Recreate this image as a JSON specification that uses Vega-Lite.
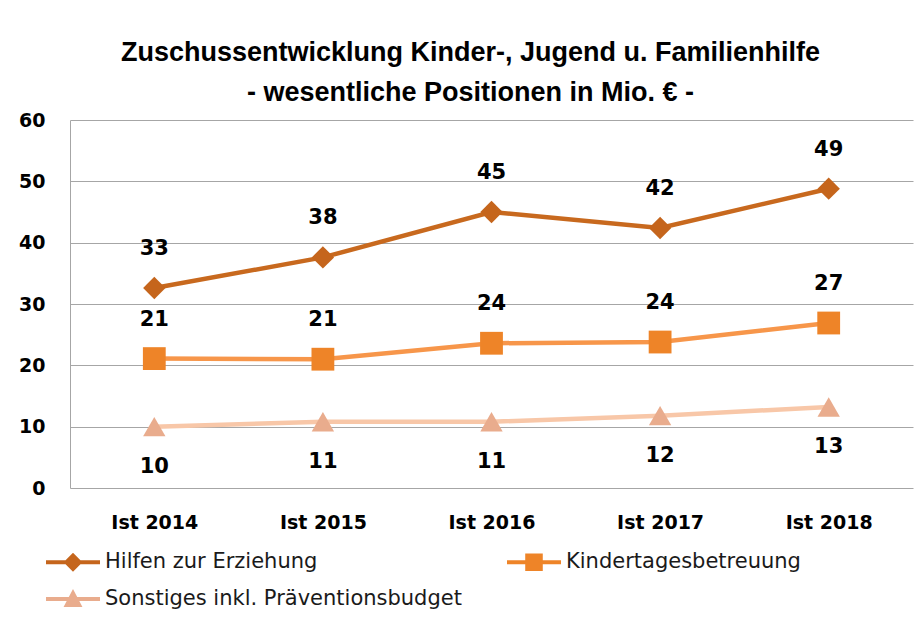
{
  "$schema": "https://vega.github.io/schema/vega-lite/v6.json",
  "width": 843,
  "height": 368,
  "autosize": {"type": "none"},
  "padding": {"left": 70, "top": 120, "right": 11, "bottom": 131},
  "background": "white",
  "title": {
    "text": ["Zuschussentwicklung  Kinder-, Jugend u. Familienhilfe", "- wesentliche Positionen in Mio. € -"],
    "font": "Liberation Sans",
    "fontSize": 27,
    "fontWeight": "bold",
    "lineHeight": 40,
    "color": "#000000",
    "anchor": "middle",
    "dx": -21,
    "offset": 4
  },
  "config": {
    "view": {"stroke": null},
    "axis": {"ticks": false, "title": null}
  },
  "data": {
    "values": [
      {"jahr": "Ist 2014", "serie": "Hilfen zur Erziehung", "wert": 32.6},
      {"jahr": "Ist 2015", "serie": "Hilfen zur Erziehung", "wert": 37.6},
      {"jahr": "Ist 2016", "serie": "Hilfen zur Erziehung", "wert": 45.0},
      {"jahr": "Ist 2017", "serie": "Hilfen zur Erziehung", "wert": 42.4},
      {"jahr": "Ist 2018", "serie": "Hilfen zur Erziehung", "wert": 48.8},
      {"jahr": "Ist 2014", "serie": "Kindertagesbetreuung", "wert": 21.1},
      {"jahr": "Ist 2015", "serie": "Kindertagesbetreuung", "wert": 21.0},
      {"jahr": "Ist 2016", "serie": "Kindertagesbetreuung", "wert": 23.6},
      {"jahr": "Ist 2017", "serie": "Kindertagesbetreuung", "wert": 23.8},
      {"jahr": "Ist 2018", "serie": "Kindertagesbetreuung", "wert": 26.9},
      {"jahr": "Ist 2014", "serie": "Sonstiges inkl. Präventionsbudget", "wert": 10.0},
      {"jahr": "Ist 2015", "serie": "Sonstiges inkl. Präventionsbudget", "wert": 10.8},
      {"jahr": "Ist 2016", "serie": "Sonstiges inkl. Präventionsbudget", "wert": 10.8},
      {"jahr": "Ist 2017", "serie": "Sonstiges inkl. Präventionsbudget", "wert": 11.8},
      {"jahr": "Ist 2018", "serie": "Sonstiges inkl. Präventionsbudget", "wert": 13.2}
    ]
  },
  "encoding": {
    "x": {
      "field": "jahr",
      "type": "nominal",
      "sort": ["Ist 2014", "Ist 2015", "Ist 2016", "Ist 2017", "Ist 2018"],
      "axis": {
        "domain": false,
        "labelAngle": 0,
        "labelFont": "DejaVu Sans",
        "labelFontSize": 19,
        "labelFontWeight": "bold",
        "labelColor": "#000000",
        "labelPadding": 25
      }
    },
    "y": {
      "field": "wert",
      "type": "quantitative",
      "scale": {"domain": [0, 60], "nice": false},
      "axis": {
        "values": [0, 10, 20, 30, 40, 50, 60],
        "domain": true,
        "domainColor": "#A6A6A6",
        "grid": true,
        "gridColor": "#A6A6A6",
        "labelFont": "DejaVu Sans",
        "labelFontSize": 19,
        "labelFontWeight": "bold",
        "labelColor": "#000000",
        "labelPadding": 25
      }
    }
  },
  "layer": [
    {
      "mark": {"type": "line", "strokeWidth": 4.5},
      "encoding": {
        "stroke": {
          "field": "serie",
          "type": "nominal",
          "scale": {"range": ["#C8691E", "#F7964A", "#F8C7A8"]},
          "legend": null
        }
      }
    },
    {
      "transform": [{"filter": "datum.serie === 'Hilfen zur Erziehung'"}],
      "mark": {"type": "point", "shape": "diamond", "filled": true, "opacity": 1, "size": 500, "strokeWidth": 0},
      "encoding": {
        "fill": {
          "field": "serie",
          "type": "nominal",
          "scale": {
            "domain": ["Hilfen zur Erziehung", "Kindertagesbetreuung", "Sonstiges inkl. Präventionsbudget"],
            "range": ["#C5651C", "#EE8428", "#E9AC8D"]
          },
          "legend": {
            "title": null,
            "orient": "none",
            "legendX": -10.5,
            "legendY": 428.5,
            "columns": 2,
            "direction": "horizontal",
            "padding": 0,
            "columnPadding": 44,
            "rowPadding": 13,
            "symbolSize": 729,
            "symbolStrokeWidth": 0,
            "symbolOpacity": 1,
            "labelOffset": 18.5,
            "labelFont": "DejaVu Sans",
            "labelFontSize": 21,
            "labelColor": "#1a1a1a",
            "labelLimit": 600
          }
        }
      }
    },
    {
      "transform": [{"filter": "datum.serie === 'Kindertagesbetreuung'"}],
      "mark": {"type": "point", "shape": "square", "filled": true, "opacity": 1, "size": 520, "strokeWidth": 0},
      "encoding": {
        "fill": {"field": "serie", "type": "nominal"}
      }
    },
    {
      "transform": [{"filter": "datum.serie === 'Sonstiges inkl. Präventionsbudget'"}],
      "mark": {"type": "point", "shape": "triangle-up", "filled": true, "opacity": 1, "size": 500, "strokeWidth": 0},
      "encoding": {
        "fill": {"field": "serie", "type": "nominal"}
      }
    },
    {
      "mark": {"type": "point", "filled": true, "opacity": 0, "size": 10, "strokeWidth": 0},
      "encoding": {
        "fill": {"field": "serie", "type": "nominal"},
        "shape": {
          "field": "serie",
          "type": "nominal",
          "scale": {
            "domain": ["Hilfen zur Erziehung", "Kindertagesbetreuung", "Sonstiges inkl. Präventionsbudget"],
            "range": [
              "M-2,-0.15H2V0.15H-2Z M0,-0.7L0.7,0L0,0.7L-0.7,0Z",
              "M-2,-0.15H2V0.15H-2Z M-0.65,-0.65H0.65V0.65H-0.65Z",
              "M-2,-0.15H2V0.15H-2Z M0,-0.75L0.7,0.6H-0.7Z"
            ]
          }
        }
      }
    },
    {
      "transform": [{"filter": "datum.serie !== 'Sonstiges inkl. Präventionsbudget'"}],
      "mark": {"type": "text", "dy": -39, "font": "DejaVu Sans", "fontSize": 21, "fontWeight": "bold", "color": "#000000", "baseline": "middle"},
      "encoding": {
        "text": {"field": "wert", "type": "quantitative", "format": ".0f"}
      }
    },
    {
      "transform": [{"filter": "datum.serie === 'Sonstiges inkl. Präventionsbudget'"}],
      "mark": {"type": "text", "dy": 40, "font": "DejaVu Sans", "fontSize": 21, "fontWeight": "bold", "color": "#000000", "baseline": "middle"},
      "encoding": {
        "text": {"field": "wert", "type": "quantitative", "format": ".0f"}
      }
    }
  ]
}
